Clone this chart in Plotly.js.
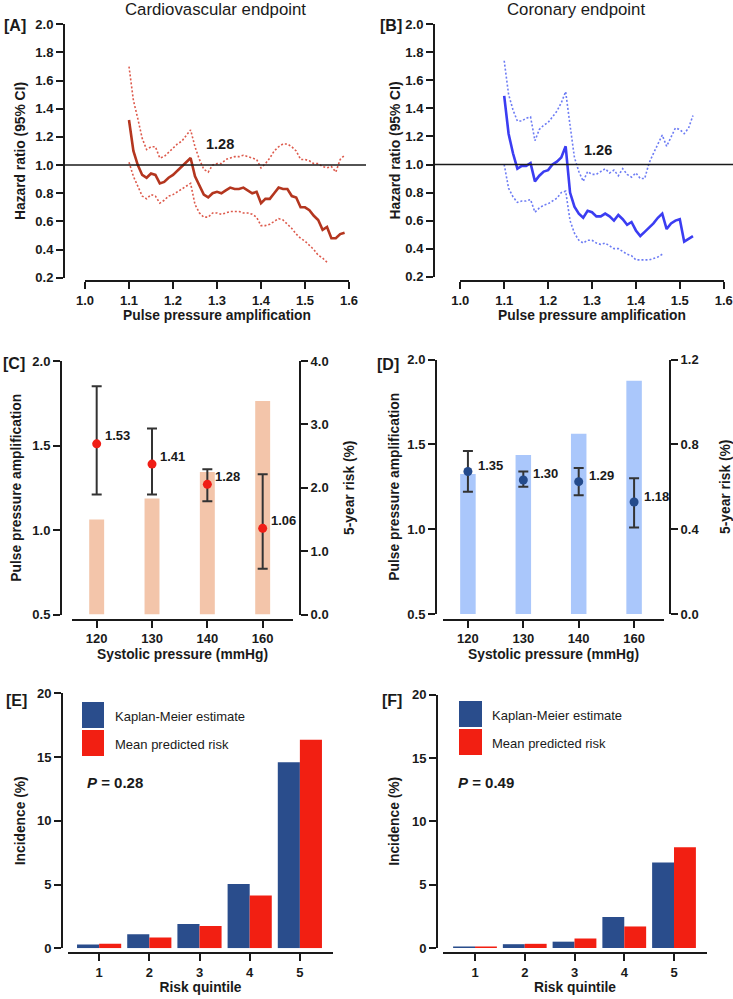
<!DOCTYPE html>
<html>
<head>
<meta charset="utf-8">
<script src="https://cdn.plot.ly/plotly-3.0.1.min.js"></script>
<style>
  html, body { margin: 0; padding: 0; background: #fff; }
  #chart { width: 733px; height: 999px; }
  #chart .xtick text, #chart .ytick text { font-weight: 700 !important; }
</style>
</head>
<body>
<div id="chart"></div>
<script>
// ---- data ----
// [A] cardiovascular endpoint, hazard ratio vs pulse pressure amplification
let ppaA = [1.10, 1.11, 1.12, 1.13, 1.14, 1.15, 1.16, 1.17, 1.18, 1.19,
            1.20, 1.21, 1.22, 1.23, 1.24, 1.25, 1.26, 1.27, 1.28, 1.29,
            1.30, 1.31, 1.32, 1.33, 1.34, 1.35, 1.36, 1.37, 1.38, 1.39,
            1.40, 1.41, 1.42, 1.43, 1.44, 1.45, 1.46, 1.47, 1.48, 1.49,
            1.50, 1.51, 1.52, 1.53, 1.54, 1.55, 1.56, 1.57, 1.58, 1.59];
let hrA = [1.32, 1.10, 1.00, 0.93, 0.91, 0.94, 0.93, 0.87, 0.88, 0.91,
           0.93, 0.96, 0.99, 1.02, 1.05, 0.92, 0.85, 0.79, 0.77, 0.80,
           0.81, 0.80, 0.82, 0.84, 0.83, 0.83, 0.84, 0.82, 0.80, 0.81,
           0.73, 0.76, 0.76, 0.80, 0.84, 0.83, 0.83, 0.78, 0.77, 0.70,
           0.70, 0.68, 0.64, 0.61, 0.54, 0.56, 0.48, 0.48, 0.51, 0.52];
let hrAHigh = [1.70, 1.46, 1.33, 1.19, 1.11, 1.13, 1.13, 1.05, 1.06, 1.09,
               1.12, 1.15, 1.17, 1.21, 1.25, 1.13, 1.04, 0.97, 0.95, 1.00,
               1.01, 1.01, 1.04, 1.05, 1.06, 1.06, 1.07, 1.06, 1.05, 1.04,
               0.98, 1.01, 1.05, 1.10, 1.13, 1.15, 1.15, 1.13, 1.10, 1.04,
               1.04, 1.03, 1.01, 1.01, 0.99, 0.98, 0.99, 0.95, 1.04, 1.07];
let hrALow = [1.02, 0.92, 0.85, 0.78, 0.76, 0.79, 0.78, 0.73, 0.75, 0.78,
              0.79, 0.81, 0.83, 0.85, 0.87, 0.72, 0.66, 0.63, 0.63, 0.66,
              0.66, 0.65, 0.66, 0.67, 0.67, 0.67, 0.66, 0.66, 0.65, 0.63,
              0.57, 0.57, 0.58, 0.60, 0.62, 0.61, 0.58, 0.55, 0.51, 0.48,
              0.46, 0.43, 0.40, 0.36, 0.34, 0.31];

// [B] coronary endpoint
let ppaB = [1.10, 1.11, 1.12, 1.13, 1.14, 1.15, 1.16, 1.17, 1.18, 1.19,
            1.20, 1.21, 1.22, 1.23, 1.24, 1.25, 1.26, 1.27, 1.28, 1.29,
            1.30, 1.31, 1.32, 1.33, 1.34, 1.35, 1.36, 1.37, 1.38, 1.39,
            1.40, 1.41, 1.42, 1.43, 1.44, 1.45, 1.46, 1.47, 1.48, 1.49,
            1.50, 1.51, 1.52, 1.53];
let hrB = [1.49, 1.22, 1.08, 0.97, 0.99, 0.99, 1.01, 0.88, 0.92, 0.95,
           0.96, 1.00, 1.02, 1.05, 1.13, 0.80, 0.70, 0.65, 0.62, 0.67,
           0.66, 0.63, 0.63, 0.65, 0.63, 0.60, 0.64, 0.61, 0.57, 0.59,
           0.53, 0.49, 0.52, 0.55, 0.58, 0.62, 0.65, 0.54, 0.58, 0.60,
           0.61, 0.45, 0.47, 0.49];
let hrBHigh = [1.74, 1.50, 1.39, 1.31, 1.31, 1.33, 1.34, 1.17, 1.25, 1.28,
               1.30, 1.34, 1.38, 1.44, 1.52, 1.28, 1.05, 0.95, 0.88, 0.95,
               0.93, 0.93, 0.95, 0.97, 0.94, 0.96, 0.92, 0.97, 0.93, 0.91,
               0.94, 0.90, 0.90, 1.01, 1.08, 1.15, 1.21, 1.13, 1.20, 1.26,
               1.25, 1.22, 1.26, 1.35];
let hrBLow = [1.00, 0.83, 0.77, 0.73, 0.74, 0.74, 0.75, 0.66, 0.69, 0.71,
              0.72, 0.74, 0.76, 0.80, 0.81, 0.60, 0.51, 0.46, 0.44, 0.46,
              0.46, 0.44, 0.43, 0.44, 0.42, 0.40, 0.40, 0.38, 0.36, 0.35,
              0.32, 0.32, 0.32, 0.32, 0.33, 0.34, 0.36];

// [C] / [D] pulse pressure amplification and 5-year risk by systolic pressure
let sbpCats = ['120', '130', '140', '160'];
let ppaC = [1.51, 1.39, 1.27, 1.01];
let ppaCHigh = [1.85, 1.60, 1.36, 1.33];
let ppaCLow = [1.21, 1.21, 1.17, 0.77];
let ppaCLabels = ['1.53', '1.41', '1.28', '1.06'];
let riskC = [1.50, 1.83, 2.25, 3.37];

let ppaD = [1.34, 1.29, 1.28, 1.16];
let ppaDHigh = [1.46, 1.34, 1.36, 1.30];
let ppaDLow = [1.22, 1.25, 1.20, 1.01];
let ppaDLabels = ['1.35', '1.30', '1.29', '1.18'];
let riskD = [0.66, 0.75, 0.85, 1.10];

// [E] / [F] calibration by risk quintile
let quintiles = [1, 2, 3, 4, 5];
let kmE = [0.30, 1.10, 1.90, 5.05, 14.6];
let predE = [0.35, 0.85, 1.75, 4.15, 16.35];
let kmF = [0.12, 0.30, 0.50, 2.45, 6.75];
let predF = [0.12, 0.33, 0.75, 1.70, 7.95];

// ---- colours ----
let redMain = '#b4361f', redCI = '#dd5a4c';
let blueMain = '#3b3df2', blueCI = '#6d7cf4';
let peachBar = '#f3c5aa', redDot = '#f01e16';
let lightBlueBar = '#aac7fb', navyDot = '#244a8b';
let kmColor = '#2a4d8c', predColor = '#f21f12';
let ink = '#1a1a1a';

// page is 733 x 999, margins 0, so paper fractions come straight from pixels
const W = 733, H = 999;
function px(x) { return x / W; }
function py(y) { return 1 - y / H; }

const FONT = 'Liberation Sans, Arial, sans-serif';
const tickFont = {family: FONT, size: 13, weight: 700, color: ink};
const titleFont = {family: FONT, size: 13.8, weight: 700, color: ink};

function axis(extra) {
    return Object.assign({
        showline: true, linecolor: ink, linewidth: 2,
        ticks: 'outside', ticklen: 7, tickwidth: 2, tickcolor: ink,
        showgrid: false, zeroline: false, anchor: 'free',
        tickfont: tickFont, fixedrange: true
    }, extra);
}
function ttl(text, standoff) {
    return {text: text, font: titleFont, standoff: standoff};
}

function diff(a, b) { return a.map((v, i) => v - b[i]); }

let traces = [
    // A
    {x: ppaA.slice(0, hrALow.length), y: hrALow, xaxis: 'x', yaxis: 'y', mode: 'lines',
     line: {color: redCI, width: 1.6, dash: '2px,2px'}},
    {x: ppaA, y: hrAHigh, xaxis: 'x', yaxis: 'y', mode: 'lines',
     line: {color: redCI, width: 1.6, dash: '2px,2px'}},
    {x: ppaA, y: hrA, xaxis: 'x', yaxis: 'y', mode: 'lines',
     line: {color: redMain, width: 2.6}},
    // B
    {x: ppaB.slice(0, hrBLow.length), y: hrBLow, xaxis: 'x2', yaxis: 'y2', mode: 'lines',
     line: {color: blueCI, width: 1.6, dash: '2px,2px'}},
    {x: ppaB, y: hrBHigh, xaxis: 'x2', yaxis: 'y2', mode: 'lines',
     line: {color: blueCI, width: 1.6, dash: '2px,2px'}},
    {x: ppaB, y: hrB, xaxis: 'x2', yaxis: 'y2', mode: 'lines',
     line: {color: blueMain, width: 2.6}},
    // C
    {type: 'bar', x: sbpCats, y: riskC, xaxis: 'x3', yaxis: 'y3', width: 0.27,
     marker: {color: peachBar}},
    {x: sbpCats, y: ppaC, xaxis: 'x3', yaxis: 'y4', mode: 'markers',
     marker: {color: redDot, size: 9},
     error_y: {type: 'data', symmetric: false, array: diff(ppaCHigh, ppaC),
               arrayminus: diff(ppaC, ppaCLow), color: '#333', thickness: 2, width: 5}},
    // D
    {type: 'bar', x: sbpCats, y: riskD, xaxis: 'x4', yaxis: 'y5', width: 0.28,
     marker: {color: lightBlueBar}},
    {x: sbpCats, y: ppaD, xaxis: 'x4', yaxis: 'y6', mode: 'markers',
     marker: {color: navyDot, size: 9},
     error_y: {type: 'data', symmetric: false, array: diff(ppaDHigh, ppaD),
               arrayminus: diff(ppaD, ppaDLow), color: '#333', thickness: 2, width: 5}},
    // E
    {type: 'bar', x: quintiles, y: kmE, xaxis: 'x5', yaxis: 'y7', name: 'Kaplan-Meier estimate',
     marker: {color: kmColor}},
    {type: 'bar', x: quintiles, y: predE, xaxis: 'x5', yaxis: 'y7', name: 'Mean predicted risk',
     marker: {color: predColor}},
    // F
    {type: 'bar', x: quintiles, y: kmF, xaxis: 'x6', yaxis: 'y8', name: 'Kaplan-Meier estimate',
     marker: {color: kmColor}},
    {type: 'bar', x: quintiles, y: predF, xaxis: 'x6', yaxis: 'y8', name: 'Mean predicted risk',
     marker: {color: predColor}}
];
traces.forEach(t => { t.showlegend = false; t.hoverinfo = 'skip'; });

function note(text, x, y, font, extra) {
    return Object.assign({text: text, x: x, y: y, showarrow: false,
                          xanchor: 'center', yanchor: 'middle', font: font}, extra || {});
}
let paperRef = {xref: 'paper', yref: 'paper'};

let annotations = [
    note('Cardiovascular endpoint', px(216), py(9), {family: FONT, size: 16.8, color: ink}, paperRef),
    note('Coronary endpoint', px(576), py(9), {family: FONT, size: 16.8, color: ink}, paperRef)
];

[['[A]', 15, 26], ['[B]', 391, 26], ['[C]', 14, 363], ['[D]', 388, 364],
 ['[E]', 16, 700], ['[F]', 392, 700]].forEach(p => {
    annotations.push(note(p[0], px(p[1]), py(p[2]),
                          {family: FONT, size: 16, weight: 700, color: ink}, paperRef));
});

annotations.push(note('1.28', 1.306, 1.15, {family: FONT, size: 14.5, weight: 700, color: ink},
                      {xref: 'x', yref: 'y'}));
annotations.push(note('1.26', 1.313, 1.10, {family: FONT, size: 14.5, weight: 700, color: ink},
                      {xref: 'x2', yref: 'y2'}));

let valueFont = {family: FONT, size: 13, weight: 700, color: ink};
ppaCLabels.forEach((t, i) => {
    annotations.push(note(t, i, ppaC[i], valueFont,
                          {xref: 'x3', yref: 'y4', xanchor: 'left', xshift: 6, yshift: 8}));
});
ppaDLabels.forEach((t, i) => {
    annotations.push(note(t, i, ppaD[i], valueFont,
                          {xref: 'x4', yref: 'y6', xanchor: 'left', xshift: 8, yshift: 6}));
});

// legends for E and F, drawn as swatches + text
let legendFont = {family: FONT, size: 13, color: ink};
let shapes = [
    {type: 'line', xref: 'paper', yref: 'y', x0: px(64), x1: px(366), y0: 1, y1: 1,
     line: {color: ink, width: 1.5}},
    {type: 'line', xref: 'paper', yref: 'y2', x0: px(434), x1: px(733), y0: 1, y1: 1,
     line: {color: ink, width: 1.5}}
];
[[82, 104, 702, 113, '0.28', 85], [459, 482, 701, 490, '0.49', 456]].forEach(l => {
    shapes.push({type: 'rect', xref: 'paper', yref: 'paper', x0: px(l[0]), x1: px(l[1]),
                 y0: py(l[2] + 26), y1: py(l[2]), line: {width: 0}, fillcolor: kmColor});
    shapes.push({type: 'rect', xref: 'paper', yref: 'paper', x0: px(l[0]), x1: px(l[1]),
                 y0: py(l[2] + 54), y1: py(l[2] + 28), line: {width: 0}, fillcolor: predColor});
    annotations.push(note('Kaplan-Meier estimate', px(l[3]), py(l[2] + 14), legendFont,
                          Object.assign({xanchor: 'left'}, paperRef)));
    annotations.push(note('Mean predicted risk', px(l[3]), py(l[2] + 42), legendFont,
                          Object.assign({xanchor: 'left'}, paperRef)));
    annotations.push(note('<i>P</i> = ' + l[4], px(l[5]), py(782),
                          {family: FONT, size: 15, weight: 700, color: ink},
                          Object.assign({xanchor: 'left'}, paperRef)));
});

let layout = {
    width: W, height: H,
    margin: {l: 0, r: 0, t: 0, b: 0},
    paper_bgcolor: '#fff', plot_bgcolor: 'rgba(0,0,0,0)',
    barmode: 'group', bargap: 0.12, bargroupgap: 0,
    showlegend: false,
    // A
    xaxis: axis({domain: [px(85), px(349)], position: py(281), range: [1.0, 1.6], dtick: 0.1,
                 tickformat: '.1f', title: ttl('Pulse pressure amplification', 3)}),
    yaxis: axis({domain: [py(277.7), py(24.3)], position: px(64), range: [0.2, 2.0], dtick: 0.2,
                 tickformat: '.1f', title: ttl('Hazard ratio (95% CI)', 5)}),
    // B
    xaxis2: axis({domain: [px(460.3), px(723.7)], position: py(281), range: [1.0, 1.6], dtick: 0.1,
                  tickformat: '.1f', title: ttl('Pulse pressure amplification', 3)}),
    yaxis2: axis({domain: [py(276.7), py(24.3)], position: px(434), range: [0.2, 2.0], dtick: 0.2,
                  tickformat: '.1f', title: ttl('Hazard ratio (95% CI)', 0)}),
    // C
    xaxis3: axis({type: 'category', domain: [px(72), px(293)], position: py(619.5), range: [-0.446, 3.548],
                  title: ttl('Systolic pressure (mmHg)', 3)}),
    yaxis3: axis({domain: [py(614.5), py(361)], position: px(300), side: 'right', range: [0, 4], dtick: 1,
                  tickformat: '.1f', title: ttl('5-year risk (%)', 16)}),
    yaxis4: axis({domain: [py(614.5), py(361)], overlaying: 'y3', position: px(61), side: 'left',
                  range: [0.5, 2.0], dtick: 0.5, tickformat: '.1f',
                  title: ttl('Pulse pressure amplification', 6)}),
    // D
    xaxis4: axis({type: 'category', domain: [px(443), px(664)], position: py(619.5), range: [-0.45, 3.54],
                  title: ttl('Systolic pressure (mmHg)', 3)}),
    yaxis5: axis({domain: [py(614), py(359.5)], position: px(670), side: 'right', range: [0, 1.2],
                  tickvals: [0, 0.4, 0.8, 1.2], tickformat: '.1f', title: ttl('5-year risk (%)', 25)}),
    yaxis6: axis({domain: [py(614), py(359.5)], overlaying: 'y5', position: px(436), side: 'left',
                  range: [0.5, 2.0], dtick: 0.5, tickformat: '.1f',
                  title: ttl('Pulse pressure amplification', 3)}),
    // E
    xaxis5: axis({domain: [px(68), px(333)], position: py(953), range: [0.38, 5.66],
                  tickvals: quintiles, title: ttl('Risk quintile', 3)}),
    yaxis7: axis({domain: [py(948.3), py(693.3)], position: px(62), range: [0, 20], dtick: 5,
                  title: ttl('Incidence (%)', 7)}),
    // F
    xaxis6: axis({domain: [px(443), px(707)], position: py(953), range: [0.357, 5.663],
                  tickvals: quintiles, title: ttl('Risk quintile', 3)}),
    yaxis8: axis({domain: [py(948), py(694.7)], position: px(437), range: [0, 20], dtick: 5,
                  title: ttl('Incidence (%)', 8)}),
    shapes: shapes,
    annotations: annotations
};

Plotly.newPlot('chart', traces, layout, {displayModeBar: false, staticPlot: true});
</script>
</body>
</html>
